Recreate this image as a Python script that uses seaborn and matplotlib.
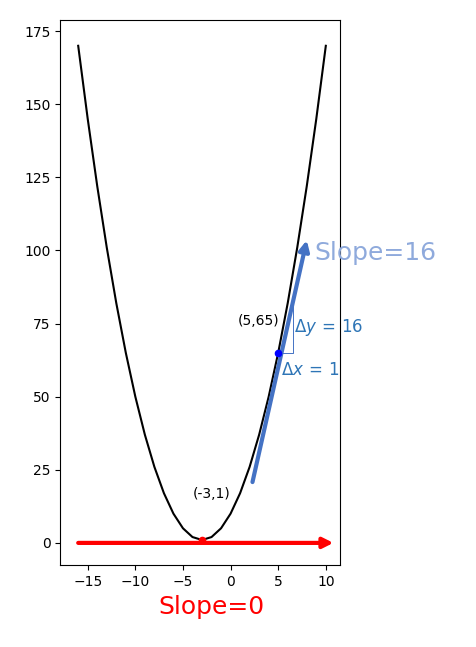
import numpy as np
import matplotlib
matplotlib.use('agg')
import matplotlib.pyplot as plt
import seaborn as sns

# parabola y = (x+3)^2 + 1 sampled at integers
xs = list(range(-16, 11))
ys = [(x + 3) ** 2 + 1 for x in xs]

tangent_pt = (5, 65)
vertex_pt = (-3, 1)
tangent_x = [2.3, 8.0]
tangent_y = [20.8, 103.5]
flat_x = [-16, 10.8]
flat_y = [0, 0]

fig = plt.figure(figsize=(4.77, 6.47), dpi=100)
ax = fig.add_axes([0.126, 0.127, 0.587, 0.842])

sns.lineplot(x=xs, y=ys, color='black', lw=1.5, ax=ax)

ax.annotate('', xy=(flat_x[1], flat_y[1]), xytext=(flat_x[0], flat_y[0]),
            arrowprops=dict(arrowstyle='-|>', color='red', lw=3, mutation_scale=15,
                            shrinkA=0, shrinkB=0), annotation_clip=False)
ax.annotate('', xy=(tangent_x[1], tangent_y[1]), xytext=(tangent_x[0], tangent_y[0]),
            arrowprops=dict(arrowstyle='-|>', color='#4472C4', lw=3, mutation_scale=15,
                            shrinkA=0, shrinkB=0))

ax.scatter([tangent_pt[0]], [tangent_pt[1]], color='blue', s=20, zorder=5)
ax.scatter([vertex_pt[0]], [vertex_pt[1]], color='red', s=20, zorder=5)

# small slope triangle
ax.plot([5, 6.6, 6.6], [65, 65, 83], color='#4472C4', lw=0.7)

ax.text(2.9, 76, '(5,65)', ha='center', va='center', fontsize=10)
ax.text(-2.0, 16.7, '(-3,1)', ha='center', va='center', fontsize=10)
ax.text(6.7, 73.5, r'$\Delta y\,=\,16$', color='#2E75B6', fontsize=12,
        va='center', family='DejaVu Serif', clip_on=False)
ax.text(5.3, 59, r'$\Delta x\,=\,1$', color='#2E75B6', fontsize=12,
        va='center', family='DejaVu Serif', clip_on=False)
ax.text(8.8, 99, 'Slope=16', color='#8FAADC', fontsize=18, va='center', clip_on=False)
fig.text(211 / 477, 1 - 607 / 647, 'Slope=0', color='red', fontsize=18,
         ha='center', va='center')

ax.set_xlim(-17.9, 11.5)
ax.set_ylim(-7.5, 178.8)
ax.set_xticks([-15, -10, -5, 0, 5, 10])
ax.set_yticks([0, 25, 50, 75, 100, 125, 150, 175])

fig.savefig('out.png', dpi=100)
